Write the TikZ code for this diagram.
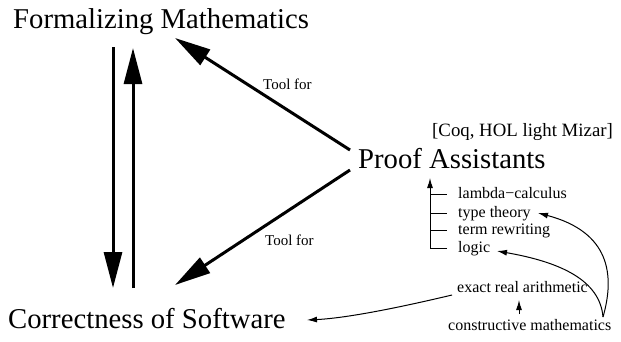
\documentclass[tikz,border=0pt]{standalone}
\usepackage{fontspec}
\setmainfont{Liberation Serif}
\usetikzlibrary{arrows.meta}
\begin{document}
\begin{tikzpicture}[x=1pt,y=-1pt,
  big/.style={font=\fontsize{28.7}{30}\selectfont,anchor=base west,inner sep=0pt},
  mid/.style={font=\fontsize{18.8}{20}\selectfont,anchor=base west,inner sep=0pt},
  small/.style={font=\fontsize{16}{18}\selectfont,anchor=base west,inner sep=0pt},
  toolf/.style={font=\fontsize{15}{17}\selectfont,anchor=base west,inner sep=0pt},
  thick arrow/.style={line width=3pt,-{Triangle[length=36pt,width=18pt]}},
  thin arrow/.style={line width=1pt,-{Latex[length=10pt,width=6pt]}},
  tree/.style={line width=1pt}]
\useasboundingbox (0,0) rectangle (621,341);
% main nodes
\node[big] (fm) at (13,28) {Formalizing Mathematics};
\node[big] (pa) at (358,168) {Proof Assistants};
\node[mid] (coq) at (432,136) {[Coq, HOL light Mizar]};
\node[big] (cs) at (8,328) {Correctness of Software};
\node[toolf] (t1) at (263,89) {Tool for};
\node[toolf] (t2) at (265,245) {Tool for};
% tree labels
\node[small] (lc) at (458,198) {lambda−calculus};
\node[small] (tt) at (458,217) {type theory};
\node[small] (tr) at (458,234) {term rewriting};
\node[small] (lo) at (458,252) {logic};
\node[small] (era) at (457,292) {exact real arithmetic};
\node[small] (cm) at (448,330) {constructive mathematics};
% coordinates
\coordinate (fmL) at (113,47);
\coordinate (csL) at (113,288);
\coordinate (csR) at (133,288);
\coordinate (fmR) at (133,48);
\coordinate (paU) at (350,150);
\coordinate (fmD) at (175,38);
\coordinate (paD) at (350,170);
\coordinate (csD) at (175,285);
\coordinate (trTop) at (430,178);
\coordinate (trBot) at (430,248);
\coordinate (lcT) at (447,194);
\coordinate (ttT) at (447,213);
\coordinate (trT) at (447,230);
\coordinate (loT) at (447,248);
\coordinate (eraL) at (452,295);
\coordinate (csE) at (307,320);
\coordinate (cmU) at (519,314);
\coordinate (eraB) at (519,300);
\coordinate (cmR) at (603,317);
\coordinate (loE) at (497,251);
\coordinate (ttE) at (538,213);
% thick arrows
\draw[thick arrow] (fmL) -- (csL);
\draw[thick arrow] (csR) -- (fmR);
\draw[thick arrow] (paU) -- (fmD);
\draw[thick arrow] (paD) -- (csD);
% tree
\draw[tree] (loT) -- (trBot);
\draw[thin arrow] (trBot) -- (trTop);
\draw[tree] (trBot |- lcT) -- (lcT);
\draw[tree] (trBot |- ttT) -- (ttT);
\draw[tree] (trBot |- trT) -- (trT);
% thin arrows
\draw[thin arrow] (eraL) .. controls (410,305) and (350,318) .. (csE);
\draw[thin arrow] (cmU) -- (eraB);
\draw[thin arrow] (cmR) .. controls (600,280) and (560,262) .. (loE);
\draw[thin arrow] (cmR) .. controls (615,275) and (610,232) .. (ttE);
\end{tikzpicture}
\end{document}
